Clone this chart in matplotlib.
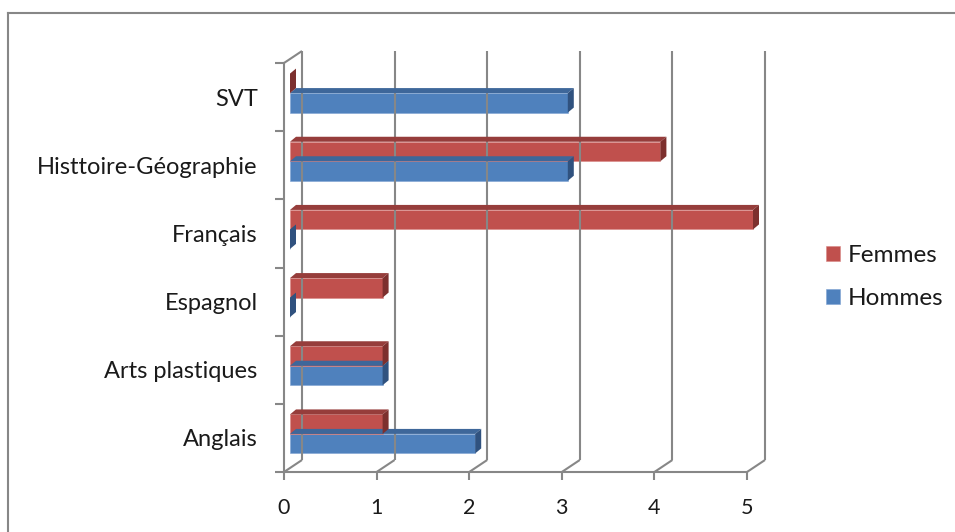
import matplotlib
matplotlib.use("Agg")
import matplotlib.pyplot as plt
from matplotlib import transforms
from matplotlib.patches import Polygon
from matplotlib.lines import Line2D
from matplotlib.ticker import FixedLocator

# ---------------- data ----------------
categories = ["Anglais", "Arts plastiques", "Espagnol", "Français",
              "Histtoire-Géographie", "SVT"]
femmes = [1, 1, 1, 5, 4, 0]
hommes = [2, 1, 0, 0, 3, 3]
xticks = [0, 1, 2, 3, 4, 5]
series_names = ["Femmes", "Hommes"]

# ---------------- style ----------------
FONT = ["Lato", "DejaVu Sans"]
GRAY = "#878787"
TXT = "#1A1A1A"
RED, RED_TOP, RED_SIDE = "#C0504D", "#963D3B", "#7D302E"
BLUE, BLUE_TOP, BLUE_SIDE = "#4F81BD", "#3E679A", "#30527F"
plt.rcParams["font.family"] = FONT

W, H = 955, 532
fig = plt.figure(figsize=(W / 100, H / 100), dpi=100)
fig.patch.set_facecolor("white")

# front plane of the 3D box
ax = fig.add_axes([284 / W, (H - 472) / H, 463 / W, 409 / H])
ax.set_xlim(0, 5)
ax.set_ylim(0, 6)
ax.patch.set_visible(False)
for s in ["top", "right"]:
    ax.spines[s].set_visible(False)
for s in ["left", "bottom"]:
    ax.spines[s].set_color(GRAY)
    ax.spines[s].set_linewidth(1.5)

ax.set_xticks(xticks)
ax.set_xticklabels([str(t) for t in xticks], fontsize=15.5)
ax.tick_params(axis="x", length=6, width=1.5, color=GRAY, pad=13, labelcolor=TXT)

ycent = [i + 0.5 for i in range(len(categories))]
ax.set_yticks(ycent)
ax.set_yticklabels(categories, fontsize=17)
ax.yaxis.set_minor_locator(FixedLocator(list(range(len(categories) + 1))))
ax.tick_params(axis="y", which="major", length=0, pad=19, labelcolor=TXT)
ax.tick_params(axis="y", which="minor", length=6.5, width=1.5, color=GRAY)

fig.canvas.draw()

BDX, BDY = 18, 12      # back wall offset (pixels)
FDX, FDY = 6, 4        # bar front-face offset
DDX, DDY = 6, 5        # bar depth

def disp(x, y):
    return ax.transData.transform((x, y))

def dline(p, q, **kw):
    fig.add_artist(Line2D([p[0], q[0]], [p[1], q[1]], transform=None,
                          color=GRAY, lw=1.5, solid_capstyle="butt", **kw))

# back wall vertical gridlines and floor diagonals
for v in xticks:
    b0 = disp(v, 0) + (BDX, BDY)
    b1 = disp(v, 6) + (BDX, BDY)
    dline(b0, b1, zorder=1)
    dline(disp(v, 0), b0, zorder=1)
# left wall top diagonal
dline(disp(0, 6), disp(0, 6) + (BDX, BDY), zorder=1)

# bars
bh = 0.286
front_tr = transforms.offset_copy(ax.transData, fig=fig, x=FDX, y=FDY, units="dots")
hb = ax.barh([c - bh / 2 for c in ycent], hommes, height=bh, color=BLUE,
             transform=front_tr, clip_on=False, zorder=3, label=series_names[1],
             edgecolor="#7FA3D3", linewidth=0.4)
fb = ax.barh([c + bh / 2 for c in ycent], femmes, height=bh, color=RED,
             transform=front_tr, clip_on=False, zorder=5, label=series_names[0],
             edgecolor="#D98886", linewidth=0.4)

def add_depth(container, topc, sidec, z):
    for rect in container.patches:
        x0, y0 = rect.get_x(), rect.get_y()
        x1, y1 = x0 + rect.get_width(), y0 + rect.get_height()
        p01 = disp(x0, y1) + (FDX, FDY)
        p10 = disp(x1, y0) + (FDX, FDY)
        p11 = disp(x1, y1) + (FDX, FDY)
        d = (DDX, DDY)
        fig.add_artist(Polygon([p01, p11, p11 + d, p01 + d], closed=True,
                               transform=None, facecolor=topc,
                               edgecolor="none", zorder=z))
        fig.add_artist(Polygon([p10, p11, p11 + d, p10 + d], closed=True,
                               transform=None, facecolor=sidec,
                               edgecolor="none", zorder=z))

add_depth(hb, BLUE_TOP, BLUE_SIDE, 2.9)
add_depth(fb, RED_TOP, RED_SIDE, 4.9)

# legend
fig.legend(handles=[fb, hb], labels=series_names, loc="center left",
           bbox_to_anchor=(804 / W, 1 - 277 / H), frameon=False, fontsize=17.5,
           handlelength=0.58, handleheight=0.58, handletextpad=0.33,
           labelspacing=0.9, labelcolor=TXT)

# outer chart border (left and top edges visible)
fig.add_artist(Line2D([8, 8], [H - 13, 0], transform=None, color=GRAY, lw=1.5))
fig.add_artist(Line2D([8, W], [H - 13, H - 13], transform=None, color=GRAY, lw=1.5))

fig.savefig("out.png", dpi=100)
